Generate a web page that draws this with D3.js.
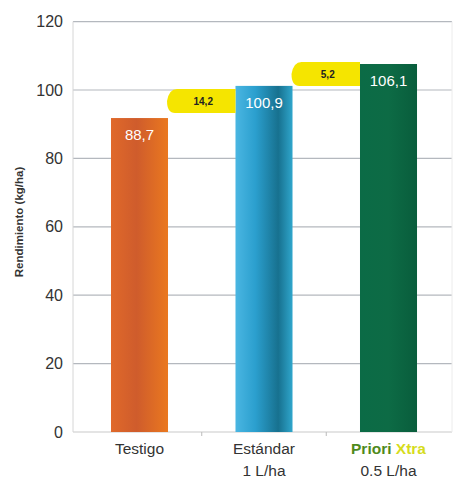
<!DOCTYPE html>
<html><head><meta charset="utf-8">
<script src="https://cdn.jsdelivr.net/npm/d3@7"></script>
<style>body{margin:0;background:#fff;font-family:Arial,"Liberation Sans",sans-serif}</style>
</head><body><svg id="c" width="455" height="481"></svg>
<script>
const categories = ["Testigo", "Estándar", "Priori Xtra"];
const subLabels = ["", "1 L/ha", "0.5 L/ha"];
const values = [91.8, 101.2, 107.6];
const valueLabels = ["88,7", "100,9", "106,1"];
const diffLabels = ["14,2", "5,2"];
const yTicks = [0, 20, 40, 60, 80, 100, 120];
const yTitle = "Rendimiento (kg/ha)";

const FONT = "Arial, Liberation Sans, sans-serif";
const svg = d3.select("#c");
const m = {l: 73, r: 3, t: 21.6, b: 49};
const W = 455, H = 481;
const x = d3.scaleBand().domain(categories).range([76, 452]).paddingInner(0.542).paddingOuter(0.281);
const y = d3.scaleLinear().domain([0, 120]).range([H - m.b, m.t]);

const defs = svg.append("defs");
function grad(id, stops) {
  const g = defs.append("linearGradient").attr("id", id).attr("x1", "0").attr("x2", "1").attr("y1", "0").attr("y2", "0");
  stops.forEach(s => g.append("stop").attr("offset", s[0]).attr("stop-color", s[1]));
}
grad("g0", [[0, "#e0692a"], [0.45, "#cf5c2c"], [1, "#ea781f"]]);
grad("g1", [[0, "#4ab6e2"], [0.35, "#2b9fce"], [0.75, "#17718f"], [1, "#2fa6cc"]]);
grad("g2", [[0, "#0b6b46"], [0.5, "#0d6b45"], [1, "#095d3c"]]);

// gridlines
svg.append("g").selectAll("line").data(yTicks).join("line")
  .attr("x1", m.l).attr("x2", W - m.r).attr("y1", d => y(d)).attr("y2", d => y(d))
  .attr("stroke", d => d === 0 ? "#c9c9c9" : "#b4b8be").attr("stroke-width", 1.2);
svg.append("line").attr("x1", m.l).attr("x2", m.l).attr("y1", y(120)).attr("y2", y(0)).attr("stroke", "#d6d6d6");
svg.append("line").attr("x1", W - m.r).attr("x2", W - m.r).attr("y1", y(120)).attr("y2", y(0)).attr("stroke", "#ececec");

// y axis labels
const yAxis = d3.axisLeft(y).tickValues(yTicks).tickSize(0).tickPadding(10);
const ya = svg.append("g").attr("transform", `translate(${m.l},0)`).call(yAxis);
ya.select(".domain").remove();
ya.selectAll("text").attr("font-size", 16).attr("fill", "#333").attr("font-family", FONT);

// category separator ticks
svg.append("g").selectAll("line").data(categories.slice(1)).join("line")
  .attr("x1", c => x(c) - (x.step() - x.bandwidth()) / 2).attr("x2", c => x(c) - (x.step() - x.bandwidth()) / 2)
  .attr("y1", y(0)).attr("y2", y(0) + 4).attr("stroke", "#bbb");

// bars
svg.append("g").selectAll("rect").data(values).join("rect")
  .attr("x", (d, i) => x(categories[i])).attr("width", x.bandwidth())
  .attr("y", d => y(d)).attr("height", d => y(0) - y(d))
  .attr("fill", (d, i) => `url(#g${i})`);

// value labels
svg.append("g").selectAll("text").data(valueLabels).join("text")
  .attr("x", (d, i) => x(categories[i]) + x.bandwidth() / 2)
  .attr("y", (d, i) => y(values[i]) + 22)
  .attr("text-anchor", "middle").attr("fill", "#fff").attr("font-size", 15)
  .attr("font-family", FONT).text(d => d);

// diff tags
diffLabels.forEach((lab, i) => {
  const x0 = x(categories[i]) + x.bandwidth() - 1;
  const x1 = x(categories[i + 1]);
  const yc = (y(values[i]) + y(values[i + 1])) / 2 - 1;
  const h = 24, r = 10;
  const g = svg.append("g");
  const p = d3.path();
  p.moveTo(x0 + r, yc - h / 2);
  p.lineTo(x1, yc - h / 2);
  p.lineTo(x1, yc + h / 2);
  p.lineTo(x0 + r - 2, yc + h / 2);
  p.quadraticCurveTo(x0, yc + h / 2, x0, yc);
  p.quadraticCurveTo(x0 + 2, yc - h / 2, x0 + r, yc - h / 2);
  p.closePath();
  g.append("path").attr("d", p.toString()).attr("fill", "#f5e500");
  g.append("text").attr("x", (x0 + x1) / 2 + 2).attr("y", yc + 4).attr("text-anchor", "middle")
    .attr("font-size", 10).attr("font-weight", "bold").attr("fill", "#222")
    .attr("font-family", FONT).text(lab);
});

// category labels
const cl = svg.append("g").attr("font-family", FONT).attr("font-size", 15.5).attr("text-anchor", "middle");
categories.forEach((c, i) => {
  const cx = x(c) + x.bandwidth() / 2;
  const t = cl.append("text").attr("x", cx).attr("y", 454).attr("fill", "#333");
  if (i === 2) {
    const parts = c.split(" ");
    t.append("tspan").attr("fill", "#4f8a1c").attr("font-weight", "bold").text(parts[0] + " ");
    t.append("tspan").attr("fill", "#d6dc1c").attr("font-weight", "bold").text(parts[1]);
  } else t.text(c);
  if (subLabels[i]) cl.append("text").attr("x", cx).attr("y", 476).attr("fill", "#333").text(subLabels[i]);
});

// y title
svg.append("text").attr("transform", `translate(23,222) rotate(-90)`)
  .attr("text-anchor", "middle").attr("font-size", 11.5).attr("font-weight", "bold").attr("fill", "#333")
  .attr("font-family", FONT).text(yTitle);
</script></body></html>
